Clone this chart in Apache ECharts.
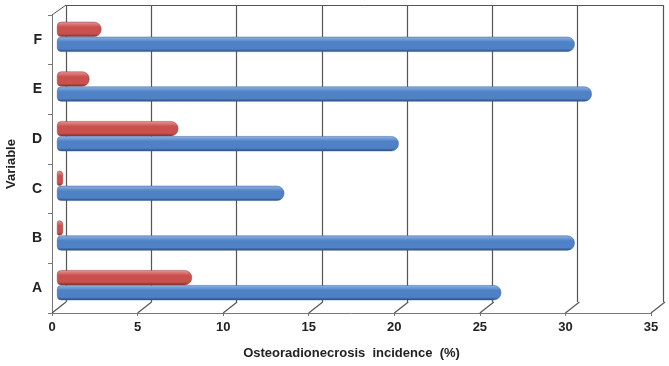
<!DOCTYPE html>
<html>
<head>
<meta charset="utf-8">
<script src="https://cdn.jsdelivr.net/npm/echarts@6/dist/echarts.min.js"></script>
<style>
  html, body { margin: 0; padding: 0; background: #fff; }
  #chart { width: 669px; height: 366px; }
</style>
</head>
<body>
<div id="chart"></div>
<script>
// values, A at the bottom
var categories = ['A', 'B', 'C', 'D', 'E', 'F'];
var blueValues = [26.0, 30.3, 13.3, 20.0, 31.3, 30.3];
var redValues = [7.9, 0.35, 0.35, 7.1, 1.9, 2.6];
var xTicks = [0, 5, 10, 15, 20, 25, 30, 35];

var chart = echarts.init(document.getElementById('chart'));

function cylinder(light, mid, dark) {
  return new echarts.graphic.LinearGradient(0, 0, 0, 1, [
    { offset: 0, color: light },
    { offset: 0.35, color: mid },
    { offset: 0.8, color: mid },
    { offset: 1, color: dark }
  ]);
}

var lineCol = '#555';
var labelFont = { fontFamily: 'Liberation Sans, Arial', fontWeight: 'bold', fontSize: 13, color: '#222' };

chart.setOption({
  backgroundColor: '#fff',
  animation: false,
  grid: [
    // back wall
    { left: 66, right: 6, top: 5, bottom: 64, outerBoundsMode: 'none' },
    // front axes
    { left: 52, right: 18, top: 15, bottom: 53, outerBoundsMode: 'none' },
    // bars
    { left: 57, right: 14, top: 12, bottom: 56, outerBoundsMode: 'none' }
  ],
  xAxis: [
    {
      gridIndex: 0, type: 'value', min: 0, max: 35, interval: 5, position: 'top',
      axisLine: { show: true, lineStyle: { color: lineCol } },
      axisTick: { show: false }, axisLabel: { show: false },
      splitLine: { show: true, lineStyle: { color: lineCol, width: 1.2 } }
    },
    {
      gridIndex: 1, type: 'value', min: 0, max: 35, interval: 5,
      axisLine: { show: true, lineStyle: { color: '#777' } },
      axisTick: { show: true, length: 3, lineStyle: { color: '#777' } },
      axisLabel: Object.assign({ margin: 8 }, labelFont),
      splitLine: { show: false },
      name: 'Osteoradionecrosis  incidence  (%)',
      nameLocation: 'middle', nameGap: 34,
      nameTextStyle: labelFont
    },
    {
      gridIndex: 2, type: 'value', min: 0, max: 35, show: false
    }
  ],
  yAxis: [
    { gridIndex: 0, type: 'category', data: categories, show: false },
    {
      gridIndex: 1, type: 'category', data: categories,
      axisLine: { show: true, lineStyle: { color: '#777' } },
      axisTick: { show: true, length: 4, lineStyle: { color: '#777' } },
      axisLabel: Object.assign({ margin: 10 }, labelFont, { fontSize: 14 }),
      name: 'Variable', nameLocation: 'middle', nameGap: 34, nameRotate: 90,
      nameTextStyle: labelFont
    },
    { gridIndex: 2, type: 'category', data: categories, show: false }
  ],
  series: [
    {
      // floor edges joining front ticks to the back wall
      type: 'custom', xAxisIndex: 1, yAxisIndex: 1, silent: true, z: 1,
      data: xTicks,
      renderItem: function (params, api) {
        var cs = params.coordSys;
        var v = api.value(0);
        var x = api.coord([v, 0])[0];
        var yb = cs.y + cs.height;
        var children = [{
          type: 'line',
          shape: { x1: x, y1: yb, x2: x + 14, y2: yb - 11 },
          style: { stroke: lineCol, lineWidth: 1.2 }
        }];
        if (v === 0) {
          children.push({
            type: 'line',
            shape: { x1: x, y1: cs.y, x2: x + 14, y2: cs.y - 10 },
            style: { stroke: lineCol, lineWidth: 1 }
          });
        }
        return { type: 'group', children: children };
      }
    },
    {
      name: 'red', type: 'bar', xAxisIndex: 2, yAxisIndex: 2, z: 3,
      data: redValues, barWidth: 15, barGap: '0%',
      itemStyle: {
        color: cylinder('#e89896', '#c9504d', '#7e2b29'),
        borderRadius: [4, 7, 7, 4],
        borderColor: '#923c3a', borderWidth: 0.5
      }
    },
    {
      name: 'blue', type: 'bar', xAxisIndex: 2, yAxisIndex: 2, z: 3,
      data: blueValues, barWidth: 15, barGap: '0%',
      itemStyle: {
        color: cylinder('#8fb4e3', '#4f81c7', '#2a4a78'),
        borderRadius: [4, 7, 7, 4],
        borderColor: '#3a5f95', borderWidth: 0.5
      }
    }
  ]
});
</script>
</body>
</html>
